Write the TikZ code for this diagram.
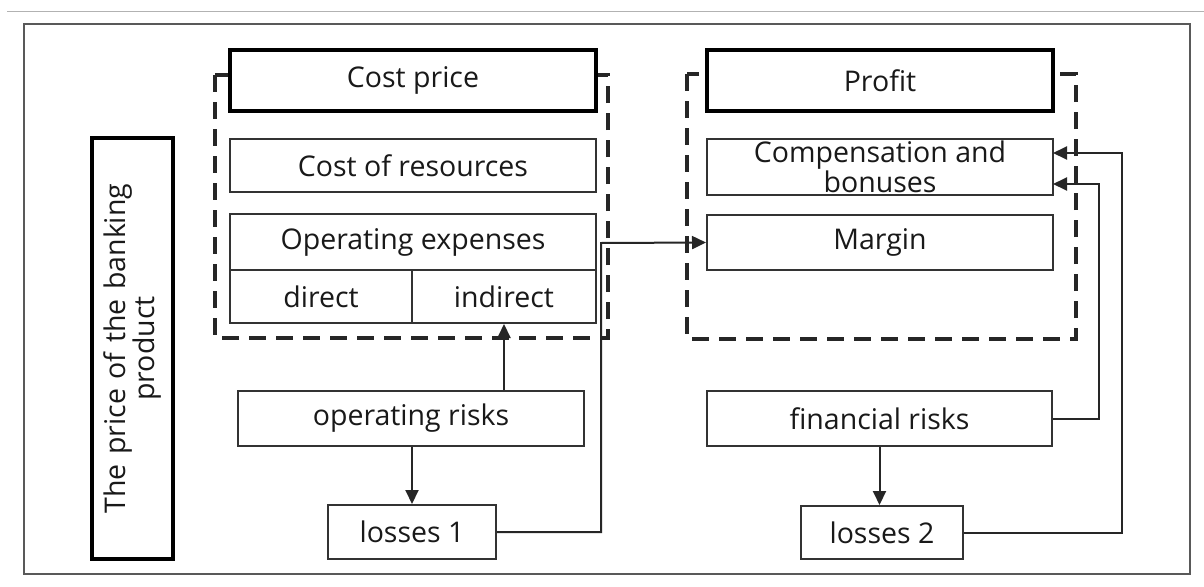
\documentclass[tikz,border=0pt]{standalone}
\usepackage{fontspec}
\setmainfont{Open Sans}
\usetikzlibrary{arrows.meta,calc}

\tikzset{
  txt/.style={font=\fontsize{28.5}{25}\selectfont, text=black!90},
  box/.style={draw=black!80, line width=2pt, fill=white, inner sep=0pt,
              align=center, txt},
  headbox/.style={box, draw=black, line width=4pt},
  group/.style={draw=black!85, line width=4pt, dash pattern=on 17pt off 10pt},
  link/.style={draw=black!85, line width=2pt},
  arr/.style={link, -{Triangle[length=14pt,width=13pt]}},
  frame/.style={draw=black!65, line width=2pt}
}

\begin{document}
\begin{tikzpicture}[x=1pt,y=-1pt]
  % canvas
  \useasboundingbox (0,0) rectangle (1204,586);
  \fill[white] (0,0) rectangle (1204,586);
  \draw[black!30, line width=1pt] (7,12) -- (1204,12);
  \draw[frame] (23.5,24) rectangle (1189.5,573.5);

  % dashed groups (drawn first so the headers cover them)
  \draw[group] (215,75) rectangle (608,338);
  \draw[group] (687,74) rectangle (1076,339);

  % left side label
  \node[headbox, minimum width=421pt, minimum height=81pt, rotate=90,
        text width=400pt] (price) at (132.5,348.5)
        {The price of the banking\\product};

  % cost price group
  \node[headbox, minimum width=366pt, minimum height=61pt] (cost) at (413,80.5) {Cost price};
  \node[box, minimum width=366pt, minimum height=53pt] (res) at (413,165.5) {Cost of resources};
  \node[box, minimum width=366pt, minimum height=56pt] (opex) at (413,242) {Operating expenses};
  \node[box, minimum width=182pt, minimum height=53pt] (direct) at (321,296.5) {direct};
  \node[box, minimum width=184pt, minimum height=53pt] (indirect) at (504,296.5) {indirect};

  % profit group
  \node[headbox, minimum width=346pt, minimum height=61pt] (profit) at (880,80.5) {Profit};
  \node[box, minimum width=346pt, minimum height=56pt] (comp) at (880,167) {Compensation and\\bonuses};
  \node[box, minimum width=346pt, minimum height=55pt] (margin) at (880,242.5) {Margin};

  % risks and losses
  \node[box, minimum width=346pt, minimum height=55pt] (oprisk) at (411,418.5) {operating risks};
  \node[box, minimum width=168pt, minimum height=54pt] (loss1) at (412,532) {losses 1};
  \node[box, minimum width=345pt, minimum height=55pt] (finrisk) at (879.5,418.5) {financial risks};
  \node[box, minimum width=162pt, minimum height=53pt] (loss2) at (882,532.5) {losses 2};

  % routing points
  \coordinate (j1) at (601,243);
  \coordinate (j2) at (1099,184);
  \coordinate (j3) at (1122,153);
  \coordinate (c2) at (1053,184);
  \coordinate (c3) at (1053,153);

  % connectors
  \draw[arr] (oprisk.north -| indirect.south) -- (indirect.south);
  \draw[arr] (loss1.north |- oprisk.south) -- (loss1.north);
  \draw[arr] (loss1.east) -| (j1) -- (margin.west);
  \draw[arr] (finrisk.south) -- (finrisk.south |- loss2.north);
  \draw[arr] (finrisk.east) -| (j2) -- (c2);
  \draw[arr] (loss2.east) -| (j3) -- (c3);
\end{tikzpicture}
\end{document}
